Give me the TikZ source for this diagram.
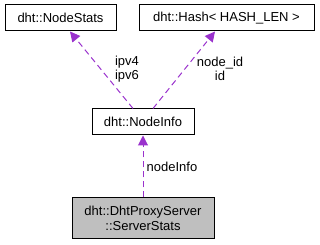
\documentclass[tikz,border=0pt]{standalone}
\usepackage{fontspec}
\setmainfont{Liberation Sans}
\usetikzlibrary{arrows.meta}
\definecolor{edgecol}{HTML}{9A32CD}
\definecolor{boxgray}{HTML}{BFBFBF}
\begin{document}
\begin{tikzpicture}[x=1pt,y=1pt,
  font=\fontsize{13}{15}\selectfont,
  cls/.style={draw=black, line width=1pt, fill=white, inner sep=0pt, minimum height=26pt},
  edge/.style={draw=edgecol, line width=1pt, dash pattern=on 6pt off 4pt,
    -{Triangle[length=10pt,width=10pt,fill=edgecol]}},
  lbl/.style={inner sep=0pt, align=center, font=\fontsize{13}{14}\selectfont}]
  \useasboundingbox (0,0) rectangle (320,245);
  % class boxes
  \node[cls, minimum width=111pt] (ns) at (60.5,227) {dht::NodeStats};
  \node[cls, minimum width=175pt] (hash) at (226.5,227) {dht::Hash< HASH\_LEN >};
  \node[cls, minimum width=102pt] (ni) at (143,123) {dht::NodeInfo};
  \node[cls, fill=boxgray, minimum width=142pt, minimum height=41pt, align=center] (ss) at (143,26.5)
    {dht::DhtProxyServer\\::ServerStats};
  % member relations
  \draw[edge] ([xshift=-10pt]ni.north) -- ([xshift=9.5pt]ns.south);
  \draw[edge] ([xshift=10pt]ni.north) -- ([xshift=-11.5pt]hash.south);
  \draw[edge] (ss.north) -- (ni.south);
  % relation labels
  \node[lbl] (l1) at (127,176) {ipv4\\ipv6};
  \node[lbl] (l2) at (220,176) {node\_id\\id};
  \node[lbl] (l3) at (172,78) {nodeInfo};
\end{tikzpicture}
\end{document}
